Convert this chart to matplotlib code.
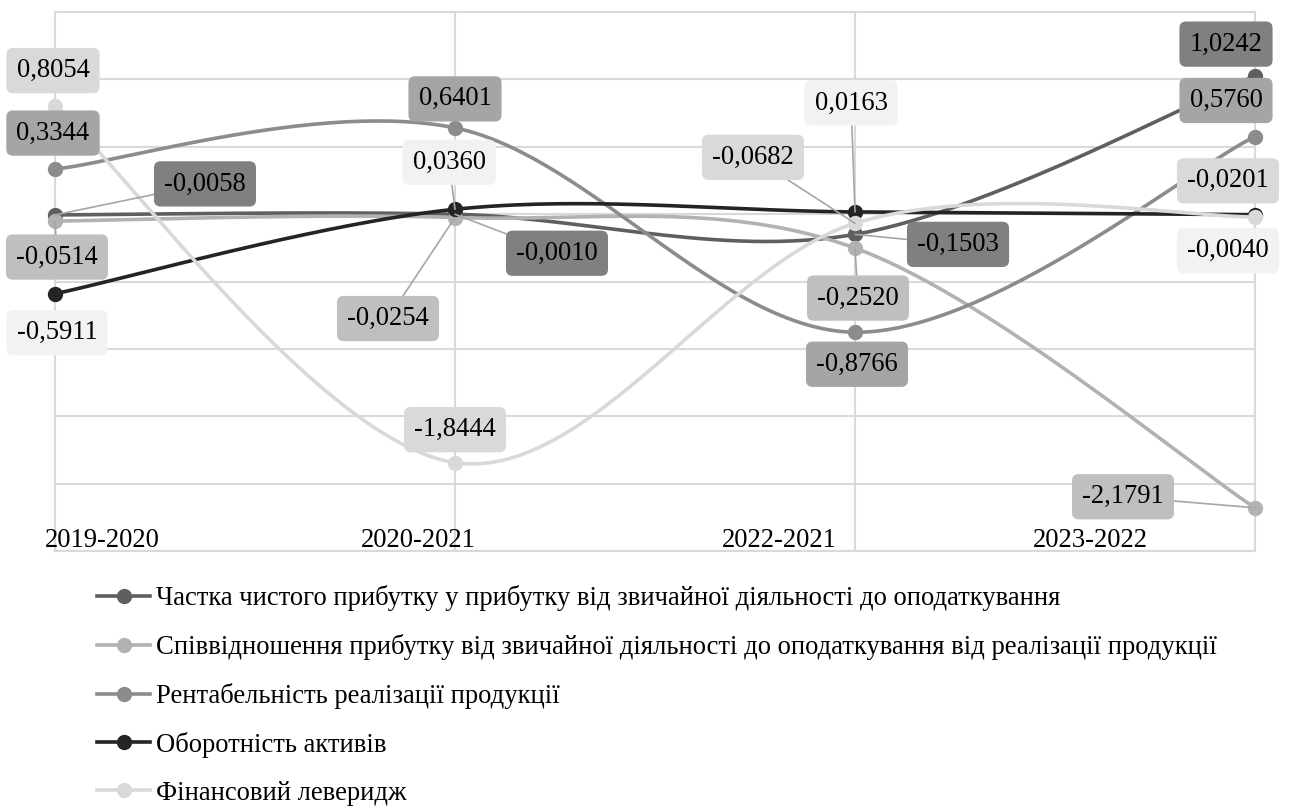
import numpy as np
import matplotlib
matplotlib.use("Agg")
import matplotlib.pyplot as plt

plt.rcParams["font.family"] = ["Liberation Serif", "DejaVu Serif"]

periods = ["2019-2020", "2020-2021", "2022-2021", "2023-2022"]
names = [
    "Частка чистого прибутку у прибутку від звичайної діяльності до оподаткування",
    "Співвідношення прибутку від звичайної діяльності до оподаткування від реалізації продукції",
    "Рентабельність реалізації продукції",
    "Оборотність активів",
    "Фінансовий леверидж",
]
share_net = [-0.0058, -0.0010, -0.1503, 1.0242]
ratio_pretax = [-0.0514, -0.0254, -0.2520, -2.1791]
profitability = [0.3344, 0.6401, -0.8766, 0.5760]
asset_turnover = [-0.5911, 0.0360, 0.0163, -0.0040]
leverage = [0.8054, -1.8444, -0.0682, -0.0201]
series = [share_net, ratio_pretax, profitability, asset_turnover, leverage]

line_colors = ["#5f5f5f", "#b2b2b2", "#8c8c8c", "#242424", "#d9d9d9"]
box_colors = ["#808080", "#bfbfbf", "#a5a5a5", "#f2f2f2", "#d9d9d9"]

# label box offsets in pixels from the point, and whether a leader line is drawn
label_offsets = [
    [(150, 31, True), (102, -39, True), (103, -10, True), (-29, 32, False)],
    [(2, -36, True), (-67, -101, True), (3, -50, True), (-132, 11, True)],
    [(-2, 36, False), (0, 29, False), (2, -32, False), (-29, 36, False)],
    [(2, -39, False), (-6, 47, True), (-4, 109, True), (-27, -36, False)],
    [(-2, 35, False), (0, 33, False), (-102, 66, True), (-27, 36, False)],
]
period_label_x = [0.1175, 0.9075, 1.81, 2.5875]
FS = 19.2


def excel_smooth(y, n=60):
    """Bezier smoothing similar to the one used by spreadsheet line charts."""
    x = np.arange(len(y), dtype=float)
    y = np.asarray(y, dtype=float)
    pts = np.column_stack([x, y])
    ext = np.vstack([pts[0], pts, pts[-1]])
    t = np.linspace(0, 1, n)[:, None]
    out = []
    for i in range(len(pts) - 1):
        p0, p3 = ext[i + 1], ext[i + 2]
        p1 = p0 + (ext[i + 2] - ext[i]) / 6
        p2 = p3 - (ext[i + 3] - ext[i + 1]) / 6
        seg = ((1 - t) ** 3) * p0 + 3 * ((1 - t) ** 2) * t * p1 \
            + 3 * (1 - t) * t ** 2 * p2 + t ** 3 * p3
        out.append(seg if i == 0 else seg[1:])
    out = np.vstack(out)
    return out[:, 0], out[:, 1]


fig = plt.figure(figsize=(13, 8.07), dpi=100)
ax = fig.add_axes([55 / 1300, 1 - 551 / 807, 1200 / 1300, 539 / 807])

x = np.arange(len(periods))
for vals, lc, name in zip(series, line_colors, names):
    sx, sy = excel_smooth(vals)
    ax.plot(sx, sy, color=lc, lw=2.6, zorder=3, clip_on=False)
    ax.plot(x, vals, "o", color=lc, ms=10, zorder=4, clip_on=False)
    ax.plot([], [], color=lc, lw=2.6, marker="o", ms=10, label=name)

for vals, bc, offs in zip(series, box_colors, label_offsets):
    for xi, v, (dx, dy, lead) in zip(x, vals, offs):
        arrow = None
        if lead:
            arrow = dict(arrowstyle="-", color="#a6a6a6", lw=1.2,
                         shrinkA=0, shrinkB=0)
        ax.annotate(f"{v:.4f}".replace(".", ","), (xi, v),
                    xytext=(dx, dy), textcoords="offset pixels",
                    ha="center", va="center", fontsize=FS, zorder=6,
                    bbox=dict(boxstyle="round,pad=0.38,rounding_size=0.25",
                              fc=bc, ec="none"),
                    arrowprops=arrow, annotation_clip=False)

ax.set_xlim(0, 3)
ax.set_ylim(-2.5, 1.5)
ax.set_yticks(np.arange(-2.5, 1.51, 0.5))
ax.set_xticks(x)
ax.tick_params(length=0, labelleft=False, labelbottom=False)
ax.grid(True, color="#d9d9d9", lw=1.5, zorder=0)
for s in ax.spines.values():
    s.set_color("#d9d9d9")
    s.set_linewidth(1.5)

for px, lab in zip(period_label_x, periods):
    ax.text(px, -2.47, lab, ha="center", va="baseline", fontsize=FS)

fig.legend(loc="upper left", bbox_to_anchor=(97 / 1300, 1 - 585 / 807),
           frameon=False, fontsize=FS, handlelength=2.0,
           handletextpad=0.2, labelspacing=0.86, borderaxespad=0,
           borderpad=0)

fig.savefig("out.png", dpi=100)
